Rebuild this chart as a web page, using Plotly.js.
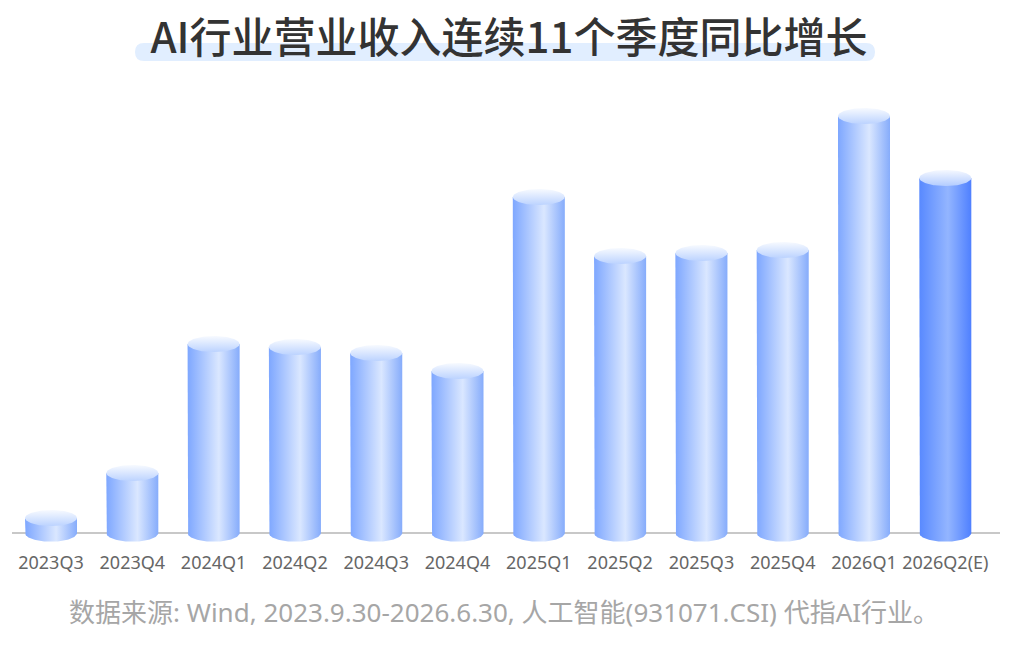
<!DOCTYPE html>
<html>
<head>
<meta charset="utf-8">
<script src="https://cdn.plot.ly/plotly-3.0.1.min.js"></script>
<style>html,body{margin:0;padding:0;background:#fff;}#chart{width:1018px;height:645px;}</style>
</head>
<body>
<div id="chart"></div>
<script>
const categories = ['2023Q3','2023Q4','2024Q1','2024Q2','2024Q3','2024Q4','2025Q1','2025Q2','2025Q3','2025Q4','2026Q1','2026Q2(E)'];
const values = [15, 60, 189, 186, 180, 162, 336, 277, 280, 283, 417, 355];
const titleText = 'AI行业营业收入连续11个季度同比增长';
const sourceText = '数据来源: Wind, 2023.9.30-2026.6.30, 人工智能(931071.CSI) 代指AI行业。';

const W = 1018, H = 645;
const halfW = 0.32;   // half bar width in category units
const capH = 8;       // ellipse half-height in y units
const N = 60;

const bodyNormal = [[0,'#7ea7ff'],[0.6,'#dae7ff'],[1,'#86acfb']];
const bodyLast = [[0,'#5889ff'],[0.55,'#93b5ff'],[1,'#4f80ff']];
const capNormal = [[0,'#bcd3ff'],[1,'#f7faff']];
const capLast = [[0,'#b3ccff'],[1,'#f5f8ff']];

const traces = [];
categories.forEach((c, i) => {
  const v = values[i];
  const last = i === categories.length - 1;
  const bx = [], by = [];
  bx.push(i - halfW); by.push(v);
  bx.push(i - halfW); by.push(0);
  for (let k = 0; k <= N; k++) {
    const t = Math.PI + Math.PI * k / N;
    bx.push(i + halfW * Math.cos(t));
    by.push(capH * 1.1 * Math.sin(t));
  }
  bx.push(i + halfW); by.push(v);
  bx.push(i - halfW); by.push(v);
  traces.push({
    type: 'scatter', mode: 'lines', x: bx, y: by, fill: 'toself',
    line: {width: 0, color: 'rgba(0,0,0,0)'},
    fillgradient: {type: 'horizontal', colorscale: last ? bodyLast : bodyNormal},
    hoverinfo: 'skip', showlegend: false
  });
  const ex = [], ey = [];
  for (let k = 0; k <= 2 * N; k++) {
    const t = 2 * Math.PI * k / (2 * N);
    ex.push(i + halfW * Math.cos(t));
    ey.push(v + capH * Math.sin(t));
  }
  traces.push({
    type: 'scatter', mode: 'lines', x: ex, y: ey, fill: 'toself',
    line: {width: 0, color: 'rgba(0,0,0,0)'},
    fillgradient: {type: 'vertical', colorscale: last ? capLast : capNormal},
    hoverinfo: 'skip', showlegend: false
  });
});

// rounded highlight under the title (paper coordinates)
const hx0 = 135 / W, hx1 = 875 / W, hy0 = 1 - 61 / H, hy1 = 1 - 43 / H;
const rx = 9 / W, ry = 9 / H;
const hlPath = `M ${hx0 + rx} ${hy0} L ${hx1 - rx} ${hy0} Q ${hx1} ${hy0} ${hx1} ${hy0 + ry} ` +
  `L ${hx1} ${hy1 - ry} Q ${hx1} ${hy1} ${hx1 - rx} ${hy1} L ${hx0 + rx} ${hy1} ` +
  `Q ${hx0} ${hy1} ${hx0} ${hy1 - ry} L ${hx0} ${hy0 + ry} Q ${hx0} ${hy0} ${hx0 + rx} ${hy0} Z`;

const layout = {
  width: W, height: H,
  margin: {l: 0, r: 0, t: 0, b: 0},
  paper_bgcolor: '#ffffff', plot_bgcolor: 'rgba(0,0,0,0)',
  title: {
    text: titleText,
    font: {family: '"Noto Sans CJK SC", sans-serif', size: 42, weight: 500, color: '#333333'},
    x: 0.5, xanchor: 'center', xref: 'paper',
    y: 1 - 38 / H, yanchor: 'middle', yref: 'container'
  },
  xaxis: {
    domain: [0, 1],
    range: [-51 / 81.3, (W - 51) / 81.3],
    tickvals: categories.map((c, i) => i),
    ticktext: categories,
    showgrid: false, zeroline: false, showline: false, ticks: '',
    tickfont: {family: '"Noto Sans", "Noto Sans CJK SC", sans-serif', size: 18, color: '#666666'},
    fixedrange: true
  },
  yaxis: {
    domain: [(H - 550) / H, (H - 80) / H],
    range: [-17, 453],
    visible: false, fixedrange: true
  },
  shapes: [
    {type: 'path', xref: 'paper', yref: 'paper', path: hlPath,
     fillcolor: '#e1eeff', line: {width: 0}, layer: 'below'},
    {type: 'line', xref: 'paper', yref: 'y', x0: 12 / W, x1: 1000 / W, y0: 0, y1: 0,
     line: {color: '#c8c8c8', width: 2}, layer: 'below'}
  ],
  annotations: [
    {text: sourceText, xref: 'paper', yref: 'paper', x: 503.5 / W, y: 1 - 612 / H,
     xanchor: 'center', yanchor: 'middle', showarrow: false,
     font: {family: '"Noto Sans", "Noto Sans CJK SC", sans-serif', size: 26, color: '#a6a6a6'}}
  ]
};

Plotly.newPlot('chart', traces, layout, {displayModeBar: false, staticPlot: true});
</script>
</body>
</html>
